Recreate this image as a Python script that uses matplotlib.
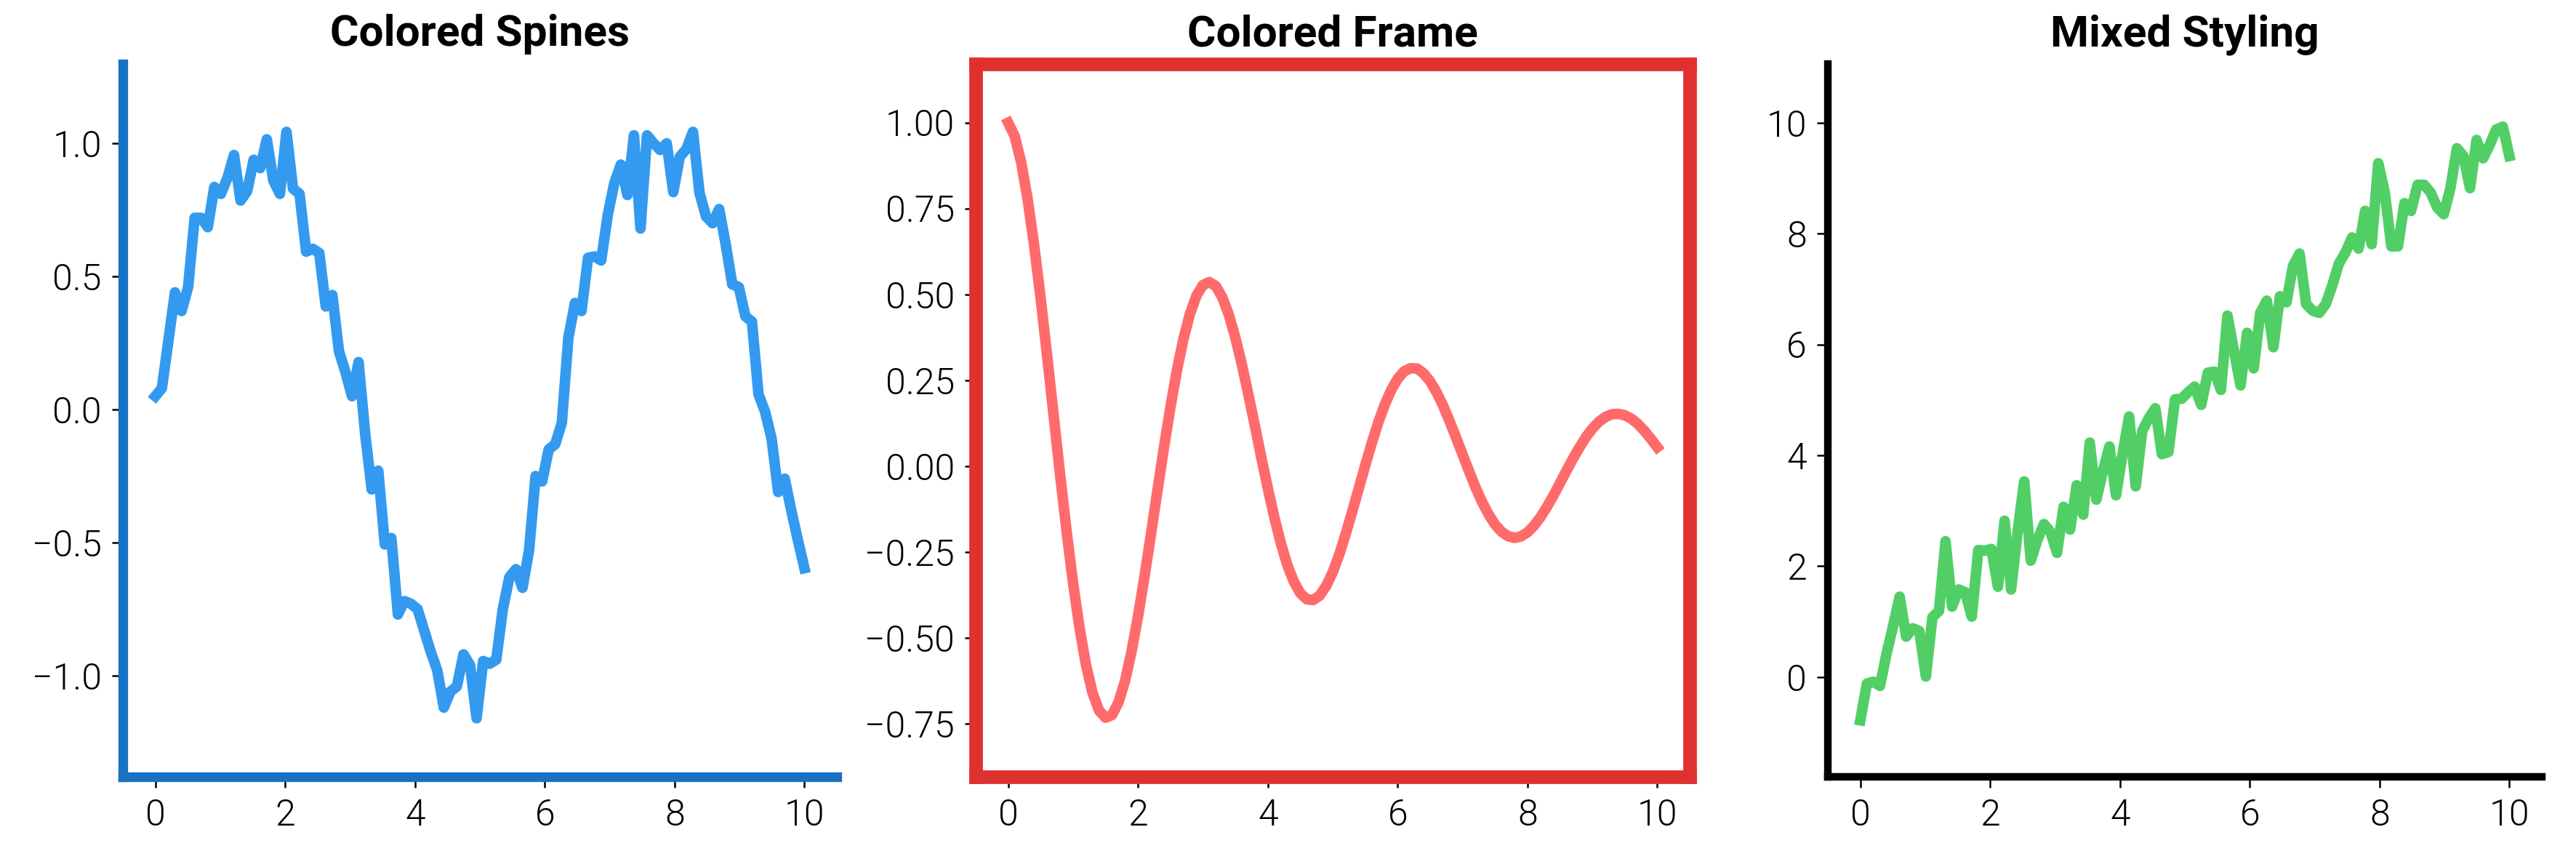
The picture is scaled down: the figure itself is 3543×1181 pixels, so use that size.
import numpy as np
import matplotlib
matplotlib.use("Agg")
import matplotlib.pyplot as plt

plt.rcParams['font.family'] = ['Roboto', 'DejaVu Sans']

# ---------------- data ----------------
titles = ["Colored Spines", "Colored Frame", "Mixed Styling"]

x_noisy = np.linspace(0, 10, 100)
sine_noisy = [
    0.05, 0.08, 0.26, 0.44, 0.37, 0.46, 0.72, 0.72, 0.685, 0.836,
    0.81, 0.87, 0.956, 0.785, 0.82, 0.938, 0.907, 1.015, 0.86, 0.81,
    1.043, 0.83, 0.81, 0.593, 0.604, 0.588, 0.387, 0.43, 0.22, 0.14,
    0.05, 0.178, -0.09, -0.30, -0.23, -0.507, -0.483, -0.77, -0.72, -0.73,
    -0.75, -0.83, -0.91, -0.98, -1.12, -1.06, -1.04, -0.92, -0.96, -1.16,
    -0.945, -0.955, -0.94, -0.75, -0.63, -0.60, -0.67, -0.53, -0.25, -0.27,
    -0.15, -0.13, -0.05, 0.27, 0.40, 0.37, 0.57, 0.575, 0.56, 0.73,
    0.85, 0.92, 0.806, 1.03, 0.68, 1.03, 1.0, 0.975, 1.0, 0.817,
    0.95, 0.978, 1.043, 0.814, 0.725, 0.70, 0.753, 0.62, 0.47, 0.46,
    0.35, 0.33, 0.057, -0.008, -0.11, -0.31, -0.26, -0.38, -0.49, -0.596,
]

x_damped = np.linspace(0, 10, 101)
damped = [
    1.0, 0.961, 0.885, 0.777, 0.643, 0.489, 0.321, 0.148, -0.025, -0.190,
    -0.341, -0.472, -0.580, -0.661, -0.712, -0.733, -0.725, -0.688, -0.626, -0.541,
    -0.438, -0.322, -0.198, -0.071, 0.054, 0.172, 0.279, 0.370, 0.443, 0.496,
    0.527, 0.536, 0.524, 0.491, 0.440, 0.374, 0.296, 0.209, 0.118, 0.025,
    -0.065, -0.149, -0.224, -0.288, -0.336, -0.370, -0.388, -0.390, -0.377, -0.349,
    -0.309, -0.258, -0.198, -0.133, -0.066, 0.001, 0.066, 0.126, 0.178, 0.221,
    0.254, 0.276, 0.285, 0.284, 0.270, 0.247, 0.215, 0.176, 0.131, 0.083,
    0.034, -0.015, -0.062, -0.104, -0.140, -0.170, -0.191, -0.204, -0.209, -0.205,
    -0.193, -0.174, -0.149, -0.119, -0.086, -0.050, -0.014, 0.021, 0.054, 0.084,
    0.109, 0.129, 0.143, 0.151, 0.152, 0.148, 0.138, 0.123, 0.103, 0.080,
    0.055,
]

linear_noisy = [
    -0.78, -0.12, -0.085, -0.16, 0.42, 0.92, 1.45, 0.73, 0.88, 0.83,
    0.01, 1.08, 1.19, 2.45, 1.27, 1.58, 1.53, 1.09, 2.29, 2.28,
    2.31, 1.63, 2.82, 1.58, 2.63, 3.53, 2.10, 2.47, 2.76, 2.62,
    2.24, 3.07, 2.66, 3.46, 2.93, 4.23, 3.20, 3.71, 4.16, 3.28,
    4.02, 4.70, 3.44, 4.44, 4.67, 4.85, 4.02, 4.06, 5.01, 5.02,
    5.14, 5.24, 4.91, 5.49, 5.51, 5.18, 6.52, 5.88, 5.26, 6.21,
    5.57, 6.57, 6.79, 5.95, 6.87, 6.76, 7.42, 7.64, 6.73, 6.61,
    6.57, 6.73, 7.07, 7.46, 7.66, 7.93, 7.73, 8.41, 7.81, 9.27,
    8.74, 7.77, 7.77, 8.55, 8.41, 8.88, 8.88, 8.74, 8.47, 8.35,
    8.82, 9.54, 9.40, 8.82, 9.69, 9.36, 9.6, 9.88, 9.93, 9.40,
]

# ---------------- figure ----------------
W, H, DPI = 3543, 1181, 300
fig = plt.figure(figsize=(W / DPI, H / DPI), dpi=DPI)

bottom = 1 - 1068 / H
height = (1068 - 88) / H
lefts = [169, 1342, 2514]
width = 982 / W

axes = [fig.add_axes([l / W, bottom, width, height]) for l in lefts]

LW = 3.5
ax1, ax2, ax3 = axes

ax1.plot(x_noisy, sine_noisy, color='#339AF0', lw=LW)
ax1.set_ylim(-1.38, 1.298)
ax1.set_yticks([-1.0, -0.5, 0.0, 0.5, 1.0])
for s in ['top', 'right']:
    ax1.spines[s].set_visible(False)
for s in ['left', 'bottom']:
    ax1.spines[s].set_color('#1971C2')
    ax1.spines[s].set_linewidth(3.2)

ax2.plot(x_damped, damped, color='#FF6B6B', lw=LW)
ax2.set_ylim(-0.905, 1.171)
ax2.set_yticks([-0.75, -0.5, -0.25, 0.0, 0.25, 0.5, 0.75, 1.0])
for s in ['top', 'right', 'left', 'bottom']:
    ax2.spines[s].set_color('#E03131')
    ax2.spines[s].set_linewidth(4.5)

ax3.plot(x_noisy, linear_noisy, color='#51CF66', lw=LW)
ax3.set_ylim(-1.80, 11.06)
ax3.set_yticks([0, 2, 4, 6, 8, 10])
for s in ['top', 'right']:
    ax3.spines[s].set_visible(False)
for s in ['left', 'bottom']:
    ax3.spines[s].set_color('black')
    ax3.spines[s].set_linewidth(2.5)

for ax, t in zip(axes, titles):
    ax.set_xlim(-0.5, 10.5)
    ax.set_xticks([0, 2, 4, 6, 8, 10])
    ax.set_title(t, fontsize=14.5, fontweight='bold', pad=6)
    ax.tick_params(axis='both', which='major', labelsize=12, width=0.6,
                   length=3.5, color='black', labelcolor='black')
    for lab in ax.get_xticklabels() + ax.get_yticklabels():
        lab.set_fontweight(300)

fig.savefig('out.png', dpi=DPI)
